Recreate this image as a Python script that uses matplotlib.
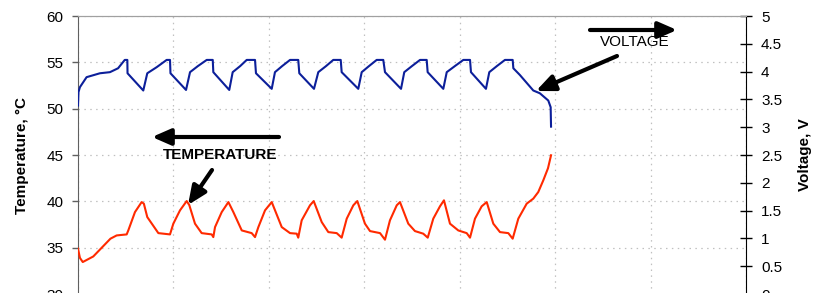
import matplotlib
matplotlib.use("Agg")
import matplotlib.pyplot as plt

plt.rcParams['font.family'] = ['Liberation Sans', 'DejaVu Sans']

# Voltage curve (time in hours, volts)
volt_t = [0.000, 0.005, 0.020, 0.090, 0.230, 0.335, 0.420, 0.490, 0.517,
          0.519, 0.684, 0.726, 0.825, 0.929, 0.964,
          0.969, 1.132, 1.174, 1.257, 1.349, 1.412,
          1.418, 1.585, 1.621, 1.700, 1.768, 1.855,
          1.865, 2.030, 2.064, 2.140, 2.222, 2.308,
          2.319, 2.473, 2.518, 2.600, 2.675, 2.753,
          2.763, 2.937, 2.973, 3.050, 3.130, 3.199,
          3.217, 3.385, 3.419, 3.500, 3.584, 3.654,
          3.664, 3.828, 3.864, 3.950, 4.038, 4.108,
          4.118, 4.275, 4.310, 4.390, 4.474, 4.555,
          4.562, 4.630, 4.771, 4.840, 4.928, 4.953, 4.957]
volt_v = [3.39, 3.63, 3.72, 3.90, 3.97, 3.99, 4.06, 4.21, 4.21,
          3.97, 3.66, 3.97, 4.08, 4.21, 4.21,
          3.97, 3.67, 3.99, 4.10, 4.21, 4.21,
          3.99, 3.67, 3.99, 4.10, 4.21, 4.21,
          3.97, 3.69, 3.99, 4.10, 4.21, 4.21,
          3.97, 3.69, 3.99, 4.10, 4.21, 4.21,
          3.99, 3.69, 3.99, 4.10, 4.21, 4.21,
          3.99, 3.69, 3.99, 4.10, 4.21, 4.21,
          3.99, 3.69, 3.99, 4.10, 4.21, 4.21,
          3.99, 3.69, 3.99, 4.10, 4.21, 4.21,
          4.06, 3.94, 3.66, 3.61, 3.48, 3.36, 3.01]

# Temperature curve (time in hours, deg C)
temp_t = [0.000, 0.020, 0.050, 0.160, 0.340, 0.405, 0.510, 0.527, 0.597, 0.667,
          0.690, 0.726, 0.842, 0.964, 0.999, 1.069, 1.139, 1.166, 1.226, 1.296,
          1.401, 1.418, 1.436, 1.506, 1.576, 1.628, 1.716, 1.820, 1.855, 1.890,
          1.960, 2.030, 2.135, 2.222, 2.292, 2.308, 2.344, 2.431, 2.470, 2.554,
          2.623, 2.711, 2.763, 2.816, 2.885, 2.927, 3.007, 3.060, 3.165, 3.217,
          3.269, 3.340, 3.374, 3.461, 3.531, 3.618, 3.665, 3.723, 3.793, 3.835,
          3.898, 3.985, 4.073, 4.108, 4.160, 4.230, 4.283, 4.352, 4.422, 4.509,
          4.555, 4.614, 4.702, 4.771, 4.823, 4.876, 4.925, 4.957]
temp_c = [34.9, 33.9, 33.45, 34.05, 35.97, 36.32, 36.43, 36.86, 38.84, 39.92,
          39.75, 38.30, 36.57, 36.43, 37.59, 39.03, 40.03, 39.60, 37.59, 36.57,
          36.43, 36.14, 37.22, 38.84, 39.92, 38.84, 36.86, 36.57, 36.14, 37.22,
          39.03, 39.92, 37.22, 36.57, 36.51, 36.08, 37.95, 39.57, 40.03, 37.76,
          36.68, 36.57, 36.08, 38.13, 39.57, 40.03, 37.59, 36.79, 36.57, 35.86,
          37.95, 39.57, 39.92, 37.59, 36.79, 36.51, 36.08, 38.13, 39.46, 40.11,
          37.59, 36.86, 36.57, 36.08, 38.13, 39.46, 39.92, 37.59, 36.68, 36.57,
          35.97, 38.13, 39.75, 40.29, 41.00, 42.27, 43.57, 44.97]

temp_ticks = [30, 35, 40, 45, 50, 55, 60]
volt_ticks = [0, 0.5, 1, 1.5, 2, 2.5, 3, 3.5, 4, 4.5, 5]
volt_labels = ['0', '0.5', '1', '1.5', '2', '2.5', '3', '3.5', '4', '4.5', '5']

W, H = 814, 293
fig = plt.figure(figsize=(W / 100, H / 100), dpi=100)
L, R, T, B = 78, 746, 16, 294
ax = fig.add_axes([L / W, 1 - B / H, (R - L) / W, (B - T) / H])
ax2 = ax.twinx()

ax.set_xlim(0, 7)
ax.set_ylim(30, 60)
ax2.set_ylim(0, 5)

grid_kw = dict(color='#c0c0c0', lw=0.9, linestyle=(0, (1.2, 3.5)))
ax.set_xticks(range(0, 8))
ax.set_yticks(temp_ticks)
ax.grid(True, **grid_kw)
ax.set_axisbelow(True)

ax.plot(temp_t, temp_c, color='#ff2a00', lw=1.5, zorder=3)
ax2.plot(volt_t, volt_v, color='#0c1f9a', lw=1.5, zorder=3)

for a in (ax, ax2):
    a.spines['top'].set_color('#a0a0a0')
    a.spines['bottom'].set_visible(False)
ax.spines['left'].set_color('#606060')
ax.spines['right'].set_visible(False)
ax2.spines['left'].set_visible(False)
ax2.spines['right'].set_color('black')

ax.tick_params(axis='x', bottom=False, labelbottom=False)
ax.tick_params(axis='y', direction='out', length=4.3, width=1, color='#606060',
               labelsize=11, pad=6, labelcolor='black')
ax2.set_yticks(volt_ticks)
ax2.set_yticklabels(volt_labels)
ax2.tick_params(axis='y', direction='inout', length=8.6, width=1, color='black',
                labelsize=11, pad=6.5)

fig.text(22 / W, 1 - 155 / H, 'Temperature, °C', rotation=90, ha='center',
         va='center', fontsize=11, fontweight='bold')
fig.text(805 / W, 1 - 155 / H, 'Voltage, V', rotation=90, ha='center',
         va='center', fontsize=11, fontweight='bold')

def fx(px):
    return (px - L) / (R - L)

def fy(py):
    return (B - py) / (B - T)

aprops = dict(arrowstyle='-|>,head_length=0.8,head_width=0.35', lw=3.0,
              color='black', shrinkA=0, shrinkB=0, mutation_scale=14)
ax.annotate('', xy=(fx(677), fy(30)), xytext=(fx(590), fy(30)),
            xycoords='axes fraction', arrowprops=aprops, zorder=5)
ax.annotate('', xy=(fx(536), fy(91)), xytext=(fx(617), fy(56)),
            xycoords='axes fraction', arrowprops=aprops, zorder=5)
ax.annotate('', xy=(fx(152), fy(137)), xytext=(fx(279), fy(137)),
            xycoords='axes fraction', arrowprops=aprops, zorder=5)
ax.annotate('', xy=(fx(188), fy(205)), xytext=(fx(212), fy(170)),
            xycoords='axes fraction', arrowprops=aprops, zorder=5)
ax.text(fx(634.5), fy(42), 'VOLTAGE', transform=ax.transAxes, ha='center',
        va='center', fontsize=11)
ax.text(fx(220), fy(155), 'TEMPERATURE', transform=ax.transAxes, ha='center',
        va='center', fontsize=11, fontweight='bold')

fig.savefig('out.png', dpi=100)
